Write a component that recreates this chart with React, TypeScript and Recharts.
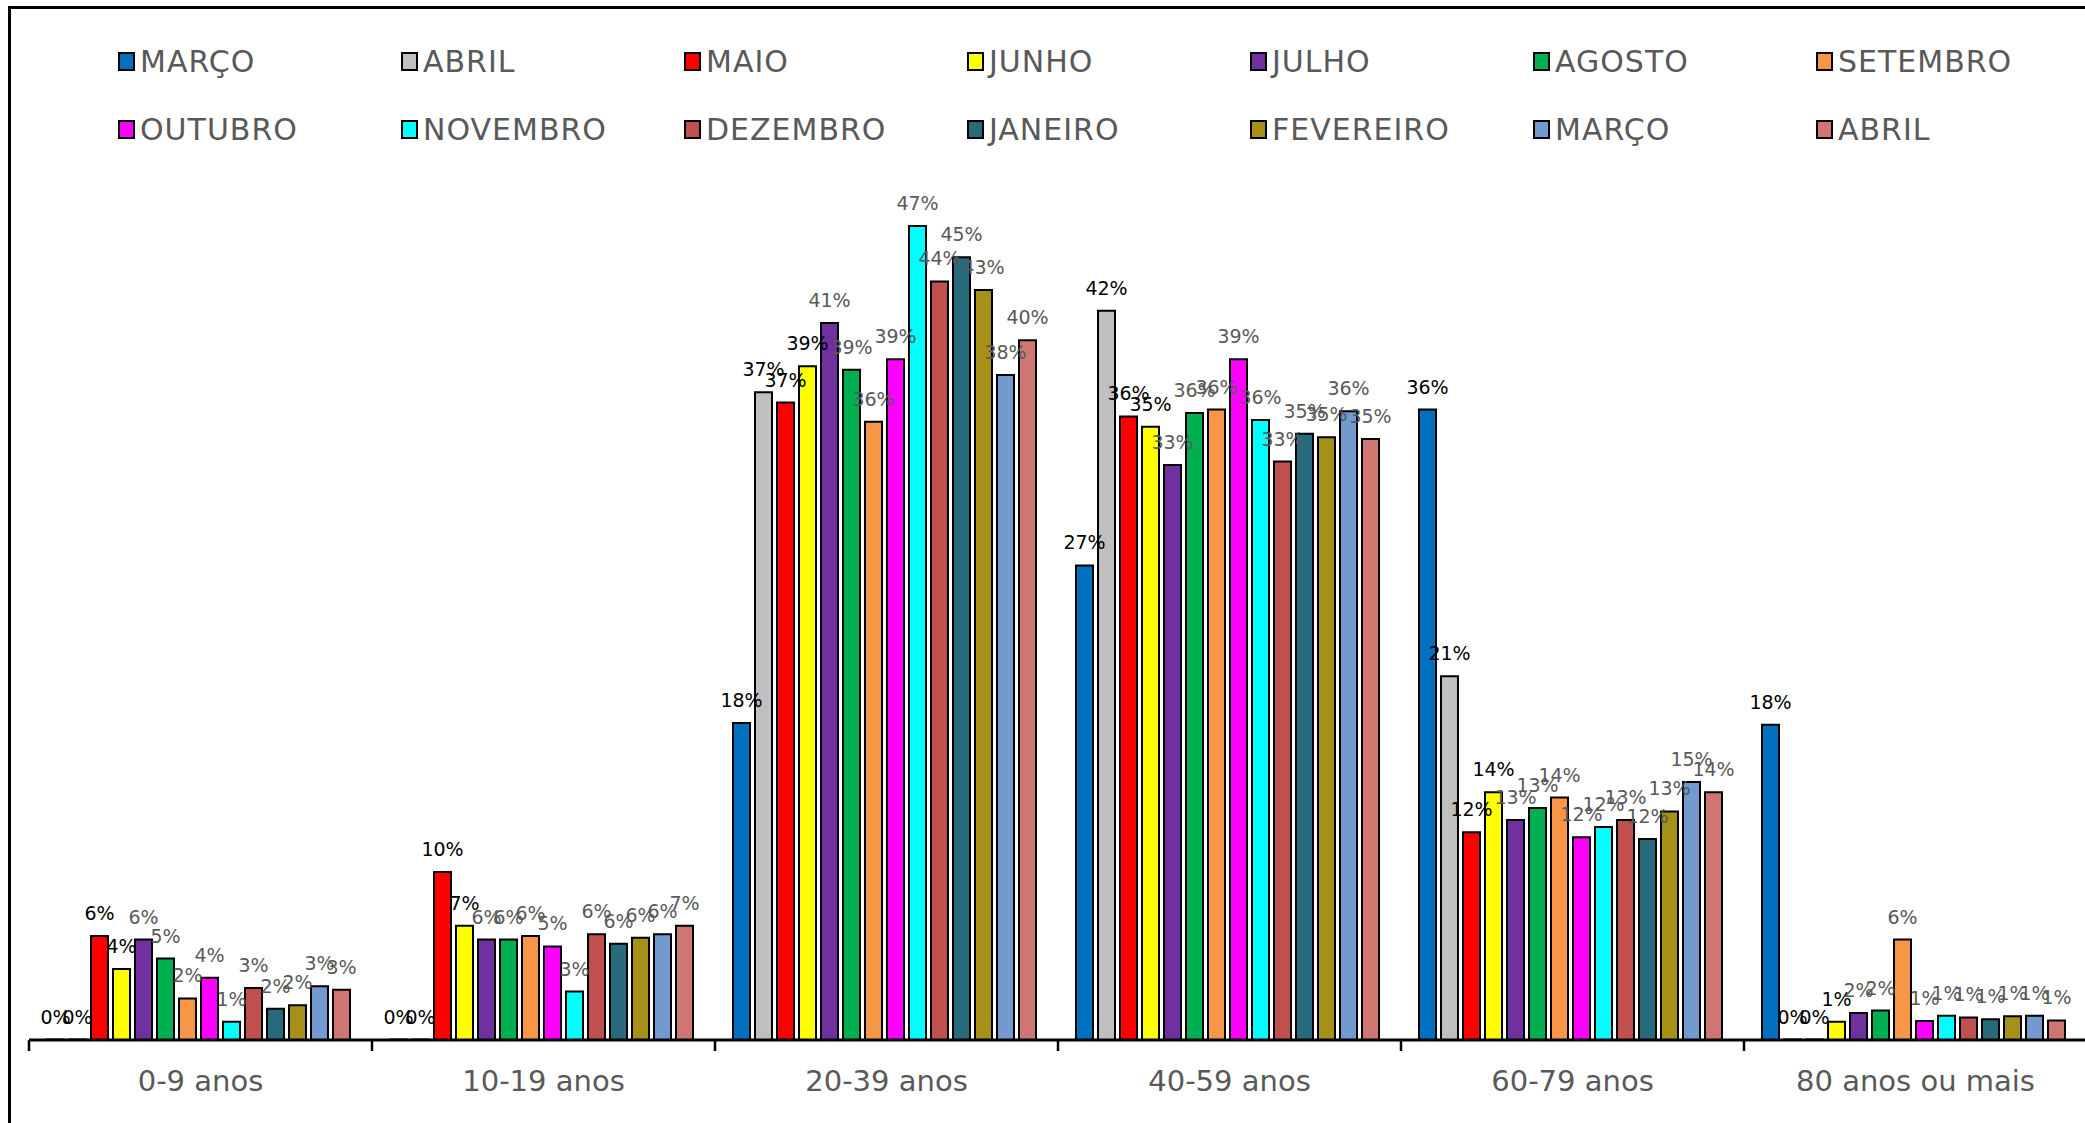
import React from 'react';
import { BarChart, Bar, XAxis, YAxis, Legend, LabelList } from 'recharts';

const categories = ['0-9 anos', '10-19 anos', '20-39 anos', '40-59 anos', '60-79 anos', '80 anos ou mais'];

const seriesKeys = ['marco1', 'abril1', 'maio', 'junho', 'julho', 'agosto', 'setembro', 'outubro', 'novembro', 'dezembro', 'janeiro', 'fevereiro', 'marco2', 'abril2'];
const seriesNames = ['MARÇO', 'ABRIL', 'MAIO', 'JUNHO', 'JULHO', 'AGOSTO', 'SETEMBRO', 'OUTUBRO', 'NOVEMBRO', 'DEZEMBRO', 'JANEIRO', 'FEVEREIRO', 'MARÇO', 'ABRIL'];
const seriesColors = ['#0070C0', '#BFBFBF', '#FF0000', '#FFFF00', '#7030A0', '#00B050', '#F79646', '#FF00FF', '#00FFFF', '#C0504D', '#276A7C', '#A69018', '#729ACF', '#D07672'];
const labelColors = ['#000000', '#000000', '#000000', '#000000', '#595959', '#595959', '#595959', '#595959', '#595959', '#595959', '#595959', '#595959', '#595959', '#595959'];

const marco1 = [0, 0, 18.3, 27.4, 36.4, 18.2];
const abril1 = [0, 0, 37.4, 42.1, 21.0, 0];
const maio = [6.0, 9.7, 36.8, 36.0, 12.0, 0];
const junho = [4.1, 6.6, 38.9, 35.4, 14.3, 1.06];
const julho = [5.8, 5.8, 41.4, 33.2, 12.7, 1.56];
const agosto = [4.7, 5.8, 38.7, 36.2, 13.4, 1.7];
const setembro = [2.4, 6.0, 35.7, 36.4, 14.0, 5.8];
const outubro = [3.6, 5.4, 39.3, 39.3, 11.7, 1.1];
const novembro = [1.06, 2.8, 47.0, 35.8, 12.3, 1.4];
const dezembro = [3.0, 6.1, 43.8, 33.4, 12.7, 1.3];
const janeiro = [1.8, 5.55, 45.2, 35.0, 11.6, 1.2];
const fevereiro = [2.0, 5.9, 43.3, 34.8, 13.2, 1.37];
const marco2 = [3.1, 6.1, 38.4, 36.3, 14.9, 1.4];
const abril2 = [2.9, 6.6, 40.4, 34.7, 14.3, 1.13];

const seriesValues = [marco1, abril1, maio, junho, julho, agosto, setembro, outubro, novembro, dezembro, janeiro, fevereiro, marco2, abril2];

const data = categories.map((c, i) => {
  const row: Record<string, string | number> = { category: c };
  seriesKeys.forEach((k, s) => {
    row[k] = seriesValues[s][i];
  });
  return row;
});

const FONT = '"DejaVu Sans", sans-serif';
const TEXT = '#595959';
const CHART_W = 2087;
const CHART_H = 1123;
const MARGIN = { top: 174, right: 0, bottom: 0, left: 29 };
const BAND = (CHART_W - MARGIN.left - MARGIN.right) / categories.length;

const AxisTick = (props: any) => {
  const { x, y, payload } = props;
  const left = x - BAND / 2;
  return (
    <g>
      <line x1={left} y1={y} x2={left} y2={y + 11} stroke="#000" strokeWidth={2.5} />
      <text x={x} y={y + 51} textAnchor="middle" fill={TEXT} fontSize={29} fontFamily={FONT}>
        {payload.value}
      </text>
    </g>
  );
};

const renderLegend = () => (
  <div style={{ position: 'relative', width: 2085, height: 170 }}>
    {seriesNames.map((name, i) => {
      const col = i % 7;
      const row = Math.floor(i / 7);
      return (
        <div
          key={i}
          style={{
            position: 'absolute',
            left: 118 + col * 283,
            top: 44 + row * 68,
            height: 34,
            display: 'flex',
            alignItems: 'center',
            whiteSpace: 'nowrap',
          }}
        >
          <span
            style={{
              display: 'inline-block',
              width: 13,
              height: 15,
              background: seriesColors[i],
              border: '2px solid #000',
            }}
          />
          <span style={{ marginLeft: 5, fontSize: 30, letterSpacing: 1, color: TEXT, fontFamily: FONT }}>{name}</span>
        </div>
      );
    })}
  </div>
);

export default function App() {
  return (
    <div style={{ position: 'absolute', left: 0, top: 0, width: 2085, height: 1123, overflow: 'hidden', background: '#fff' }}>
      <div
        style={{
          position: 'absolute',
          left: 8,
          top: 6,
          width: 2300,
          height: 1400,
          border: '3px solid #000',
        }}
      />
      <div style={{ position: 'absolute', left: 0, top: 0 }}>
        <BarChart
          width={CHART_W}
          height={CHART_H}
          data={data}
          margin={MARGIN}
          barGap={5}
          barCategoryGap={18}
        >
          <XAxis
            dataKey="category"
            height={83}
            axisLine={{ stroke: '#000', strokeWidth: 3 }}
            tickLine={false}
            tickSize={0}
            tickMargin={0}
            tick={<AxisTick />}
            interval={0}
          />
          <YAxis hide domain={[0, 50]} />
          <Legend
            layout="horizontal"
            verticalAlign="middle"
            align="center"
            wrapperStyle={{ top: 0, left: 0, width: 2085 }}
            content={renderLegend}
          />
          {seriesKeys.map((k, s) => (
            <Bar
              key={k}
              dataKey={k}
              name={seriesNames[s]}
              fill={seriesColors[s]}
              stroke="#000"
              strokeWidth={2}
              minPointSize={0.5}
              isAnimationActive={false}
            >
              <LabelList
                dataKey={k}
                position="top"
                offset={16}
                fill={labelColors[s]}
                fontSize={19}
                fontFamily={FONT}
                formatter={(v: any) => `${Math.round(Number(v))}%`}
              />
            </Bar>
          ))}
        </BarChart>
      </div>
    </div>
  );
}
